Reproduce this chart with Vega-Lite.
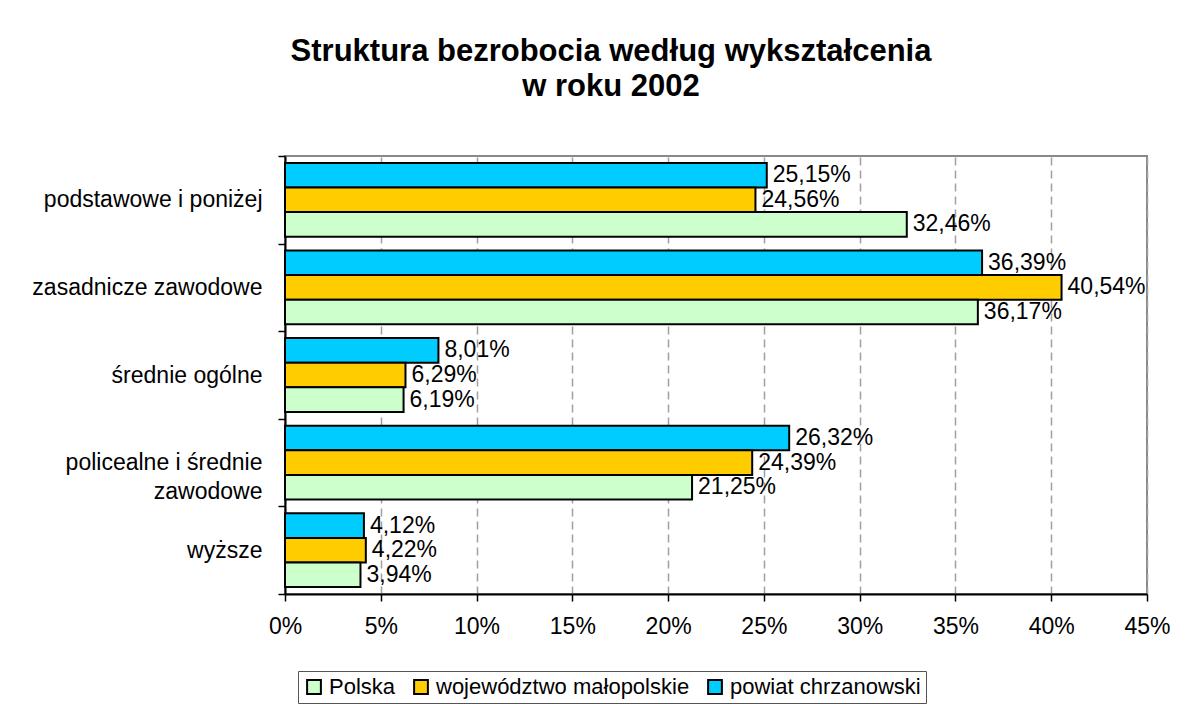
{
  "$schema": "https://vega.github.io/schema/vega-lite/v6.json",
  "width": 862,
  "height": 438,
  "autosize": {"type": "none"},
  "padding": {"left": 285, "top": 156, "right": 56, "bottom": 119},
  "background": "white",
  "config": {
    "font": "Liberation Sans",
    "locale": {"number": {"decimal": ",", "thousands": " ", "grouping": [3], "currency": ["", " zł"]}},
    "view": {"stroke": "#888888", "strokeWidth": 2}
  },
  "title": {
    "text": ["Struktura bezrobocia według wykształcenia", "w roku 2002"],
    "fontSize": 31,
    "fontWeight": "bold",
    "color": "black",
    "anchor": "middle",
    "frame": "group",
    "dx": -105,
    "offset": 42,
    "lineHeight": 35
  },
  "data": {
    "values": [
      {"kategoria": "podstawowe i poniżej", "seria": "powiat chrzanowski", "wartosc": 0.2515},
      {"kategoria": "podstawowe i poniżej", "seria": "województwo małopolskie", "wartosc": 0.2456},
      {"kategoria": "podstawowe i poniżej", "seria": "Polska", "wartosc": 0.3246},
      {"kategoria": "zasadnicze zawodowe", "seria": "powiat chrzanowski", "wartosc": 0.3639},
      {"kategoria": "zasadnicze zawodowe", "seria": "województwo małopolskie", "wartosc": 0.4054},
      {"kategoria": "zasadnicze zawodowe", "seria": "Polska", "wartosc": 0.3617},
      {"kategoria": "średnie ogólne", "seria": "powiat chrzanowski", "wartosc": 0.0801},
      {"kategoria": "średnie ogólne", "seria": "województwo małopolskie", "wartosc": 0.0629},
      {"kategoria": "średnie ogólne", "seria": "Polska", "wartosc": 0.0619},
      {"kategoria": "policealne i średnie zawodowe", "seria": "powiat chrzanowski", "wartosc": 0.2632},
      {"kategoria": "policealne i średnie zawodowe", "seria": "województwo małopolskie", "wartosc": 0.2439},
      {"kategoria": "policealne i średnie zawodowe", "seria": "Polska", "wartosc": 0.2125},
      {"kategoria": "wyższe", "seria": "powiat chrzanowski", "wartosc": 0.0412},
      {"kategoria": "wyższe", "seria": "województwo małopolskie", "wartosc": 0.0422},
      {"kategoria": "wyższe", "seria": "Polska", "wartosc": 0.0394}
    ]
  },
  "encoding": {
    "y": {
      "field": "kategoria",
      "type": "nominal",
      "sort": ["podstawowe i poniżej", "zasadnicze zawodowe", "średnie ogólne", "policealne i średnie zawodowe", "wyższe"],
      "scale": {"paddingInner": 0, "paddingOuter": 0},
      "axis": {
        "title": null,
        "labelFontSize": 23,
        "labelColor": "black",
        "labelPadding": 16,
        "labelLimit": 400,
        "labelLineHeight": 29,
        "labelExpr": "datum.value == 'policealne i średnie zawodowe' ? ['policealne i średnie', 'zawodowe'] : datum.value",
        "tickBand": "extent",
        "tickSize": 7,
        "tickColor": "black",
        "tickWidth": 1.5,
        "domainColor": "black",
        "domainWidth": 2
      }
    },
    "yOffset": {
      "field": "seria",
      "type": "nominal",
      "sort": ["powiat chrzanowski", "województwo małopolskie", "Polska"],
      "scale": {"paddingInner": 0, "paddingOuter": 0.28}
    },
    "x": {
      "field": "wartosc",
      "type": "quantitative",
      "scale": {"domain": [0, 0.45], "nice": false},
      "axis": {
        "title": null,
        "format": ".0%",
        "values": [0, 0.05, 0.1, 0.15, 0.2, 0.25, 0.3, 0.35, 0.4, 0.45],
        "labelFontSize": 23,
        "labelColor": "black",
        "labelPadding": 14,
        "labelFlush": false,
        "tickSize": 7,
        "tickColor": "black",
        "tickWidth": 1.5,
        "domainColor": "black",
        "domainWidth": 2,
        "grid": true,
        "gridColor": "#a0a0a0",
        "gridDash": [8, 5],
        "gridWidth": 1.5
      }
    }
  },
  "layer": [
    {
      "mark": {"type": "bar", "stroke": "black", "strokeWidth": 2},
      "encoding": {
        "color": {
          "field": "seria",
          "type": "nominal",
          "scale": {
            "domain": ["Polska", "województwo małopolskie", "powiat chrzanowski"],
            "range": ["#ccffcc", "#ffcc00", "#00ccff"]
          },
          "legend": {
            "title": null,
            "orient": "none",
            "legendX": 13,
            "legendY": 515,
            "direction": "horizontal",
            "symbolType": "square",
            "symbolSize": 190,
            "symbolStrokeColor": "black",
            "symbolStrokeWidth": 2,
            "symbolOpacity": 1,
            "labelFontSize": 22,
            "labelColor": "black",
            "labelLimit": 400,
            "labelOffset": 4,
            "columnPadding": 14,
            "strokeColor": "#555555",
            "padding": 5
          }
        }
      }
    },
    {
      "mark": {"type": "text", "align": "left", "baseline": "middle", "dx": 6, "fontSize": 23, "color": "black"},
      "encoding": {
        "text": {"field": "wartosc", "type": "quantitative", "format": ".2%"}
      }
    }
  ]
}
